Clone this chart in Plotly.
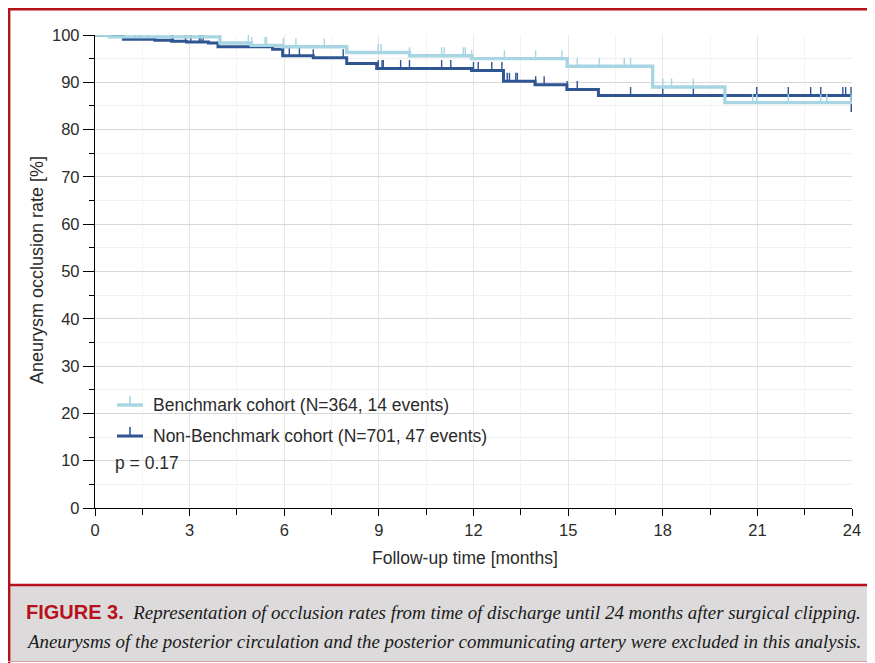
import numpy as np
import plotly.graph_objects as go

# ---------------- data ----------------
# Benchmark cohort (N=364, 14 events): step times [months] and occlusion rate [%]
bench_t = [0, 0.45, 3.96, 4.95, 5.95, 7.98, 9.97, 11.94, 14.97, 17.68, 19.97, 24]
bench_s = [100, 99.6, 98.3, 97.8, 97.5, 96.3, 95.6, 95.0, 93.4, 89.0, 85.7, 85.7]
bench_censor = [0.26, 0.45, 0.5, 1.98, 2.38, 2.96, 3.96, 4.86, 4.97, 5.39, 5.44, 5.97,
                6.37, 7.27, 8.98, 9.07, 9.97, 10.99, 11.07, 11.68, 11.74, 11.94,
                12.98, 13.97, 14.8, 14.97, 15.29, 15.99, 16.78, 16.98, 18.0,
                18.28, 18.97, 20.85, 20.98, 21.98, 23.01, 23.2, 23.97]

# Non-Benchmark cohort (N=701, 47 events)
nonb_t = [0, 0.9, 1.9, 2.43, 2.9, 3.6, 3.9, 5.63, 5.95, 6.92, 7.98, 8.93, 11.94,
          12.95, 13.95, 14.96, 15.96, 24]
nonb_s = [100, 99.1, 98.9, 98.7, 98.5, 98.3, 97.5, 97.0, 95.6, 95.2, 94.0, 92.9, 92.5,
          90.2, 89.5, 88.5, 87.2, 83.7]
nonb_censor = [1.29, 1.43, 1.66, 2.44, 2.48, 2.87, 3.04, 3.31, 3.36, 3.43,
               5.97, 6.16, 6.48, 6.92, 7.87, 8.98, 9.1, 9.14, 9.69, 9.97, 10.99,
               11.28, 12.0, 12.15, 12.58, 12.9, 13.07, 13.14, 13.34, 13.39, 13.97,
               14.24, 14.97, 15.29, 16.98, 18.0, 18.97, 20.98, 21.98, 22.69, 23.01,
               23.71, 23.8, 23.97]

x_ticks = list(range(0, 25, 3))
y_ticks = list(range(0, 101, 10))

legend_labels = ["Benchmark cohort (N=364, 14 events)",
                 "Non-Benchmark cohort (N=701, 47 events)"]
p_text = "p = 0.17"
x_title = "Follow-up time [months]"
y_title = "Aneurysm occlusion rate [%]"
caption_1 = "Representation of occlusion rates from time of discharge until 24 months after surgical clipping."
caption_2 = "Aneurysms of the posterior circulation and the posterior communicating artery were excluded in this analysis."

LIGHT = "#a7d5e3"
DARK = "#2f5593"
RED = "#b5121b"

# ---------------- geometry (reference-window pixels) ----------------
WIN_W, WIN_H = 875, 663
OFF = 8                      # page body margin
W, H = WIN_W - OFF, WIN_H - OFF
L, R, T, B = 95, 852, 35, 508  # plot area in window pixels


def px_x(p):
    return (p - L) / (R - L)


def px_y(p):
    return (B - p) / (B - T)


TICK_H = 1.8  # censor tick height in % units


def censor_segments(times, st, ss):
    st = np.asarray(st)
    ss = np.asarray(ss)
    xs, ys = [], []
    for c in times:
        i = np.searchsorted(st, c, side="right") - 1
        v = ss[max(i, 0)]
        xs += [c, c, None]
        ys += [v, v + TICK_H, None]
    return xs, ys


fig = go.Figure()

for st, ss, cens, col, lw in [(nonb_t, nonb_s, nonb_censor, DARK, 3.0),
                              (bench_t, bench_s, bench_censor, LIGHT, 3.4)]:
    fig.add_trace(go.Scatter(x=st, y=ss, mode="lines", line=dict(color=col, width=lw, shape="hv"),
                             cliponaxis=False, showlegend=False, hoverinfo="skip"))
    cx, cy = censor_segments(cens, st, ss)
    fig.add_trace(go.Scatter(x=cx, y=cy, mode="lines", line=dict(color=col, width=1.4),
                             cliponaxis=False, showlegend=False, hoverinfo="skip"))

font_main = "Liberation Sans, Arial, sans-serif"
txt_col = "#2b2b2b"

fig.update_layout(
    width=W, height=H, autosize=False,
    margin=dict(l=L - OFF, r=WIN_W - R, t=T - OFF, b=WIN_H - B),
    paper_bgcolor="white", plot_bgcolor="white",
    font=dict(family=font_main, size=16.5, color=txt_col),
    showlegend=False,
)

fig.update_xaxes(
    range=[0, 24], tickvals=x_ticks, ticks="outside", ticklen=7, tickwidth=1, tickcolor="black",
    showline=True, linecolor="black", linewidth=1.3, zeroline=False,
    showgrid=True, gridcolor="#e6e6e6", gridwidth=1,
    minor=dict(dtick=1.5, tick0=0, ticks="outside", ticklen=6, tickcolor="black",
               showgrid=True, gridcolor="#f4f4f4"),
    tickfont=dict(size=16.5, color=txt_col),
)
fig.update_yaxes(
    range=[0, 100], tickvals=y_ticks, ticks="outside", ticklen=11, tickwidth=1, tickcolor="black",
    showline=True, linecolor="black", linewidth=1.3, zeroline=False,
    showgrid=True, gridcolor="#d8d8d8", gridwidth=1,
    minor=dict(dtick=5, tick0=0, ticks="outside", ticklen=5, tickcolor="black",
               showgrid=True, gridcolor="#f0f0f0"),
    tickfont=dict(size=16.5, color=txt_col),
)

shapes = []
annotations = []

# axis titles
annotations.append(dict(text=x_title, xref="paper", yref="paper", x=px_x(465), y=px_y(558),
                        xanchor="center", yanchor="middle", showarrow=False,
                        font=dict(size=17.5, color=txt_col)))
annotations.append(dict(text=y_title, xref="paper", yref="paper", x=px_x(37), y=px_y(270),
                        xanchor="center", yanchor="middle", textangle=-90, showarrow=False,
                        font=dict(size=18, color=txt_col)))

# white boxes behind legend and p-value
shapes.append(dict(type="rect", xref="paper", yref="paper", layer="between",
                   x0=px_x(108), x1=px_x(494), y0=px_y(450), y1=px_y(394),
                   fillcolor="white", line=dict(width=0)))
shapes.append(dict(type="rect", xref="paper", yref="paper", layer="between",
                   x0=px_x(110), x1=px_x(185), y0=px_y(474), y1=px_y(452),
                   fillcolor="white", line=dict(width=0)))

# legend symbols
for row_y, col, lw, lab in [(405, LIGHT, 3.4, legend_labels[0]), (436, DARK, 3.0, legend_labels[1])]:
    shapes.append(dict(type="line", xref="paper", yref="paper",
                       x0=px_x(117), x1=px_x(143), y0=px_y(row_y), y1=px_y(row_y),
                       line=dict(color=col, width=lw)))
    shapes.append(dict(type="line", xref="paper", yref="paper",
                       x0=px_x(130), x1=px_x(130), y0=px_y(row_y), y1=px_y(row_y - 9),
                       line=dict(color=col, width=1.6)))
    annotations.append(dict(text=lab, xref="paper", yref="paper", x=px_x(151), y=px_y(row_y),
                            xanchor="left", yanchor="middle", showarrow=False,
                            font=dict(size=17.5, color=txt_col)))
annotations.append(dict(text=p_text, xref="paper", yref="paper", x=px_x(113), y=px_y(463),
                        xanchor="left", yanchor="middle", showarrow=False,
                        font=dict(size=17.5, color=txt_col)))

# outer red frame and caption box
shapes.append(dict(type="rect", xref="paper", yref="paper", layer="below",
                   x0=px_x(9), x1=px_x(880), y0=px_y(661), y1=px_y(586),
                   fillcolor="#dcdadb", line=dict(width=0)))
shapes.append(dict(type="line", xref="paper", yref="paper",
                   x0=px_x(9), x1=px_x(9), y0=px_y(7), y1=px_y(670),
                   line=dict(color=RED, width=2.8)))
shapes.append(dict(type="line", xref="paper", yref="paper",
                   x0=px_x(7), x1=px_x(880), y0=px_y(9), y1=px_y(9),
                   line=dict(color=RED, width=2.8)))
shapes.append(dict(type="line", xref="paper", yref="paper",
                   x0=px_x(7), x1=px_x(880), y0=px_y(585), y1=px_y(585),
                   line=dict(color=RED, width=2.6)))
shapes.append(dict(type="line", xref="paper", yref="paper",
                   x0=px_x(7), x1=px_x(880), y0=px_y(661.5), y1=px_y(661.5),
                   line=dict(color="#d9a0a4", width=1.2)))

cap_font = "Liberation Serif, Times New Roman, serif"
annotations.append(dict(
    text=("<span style='font-family:Liberation Sans Narrow, Liberation Sans, sans-serif;"
          "font-size:20px;color:" + RED + "'><b>FIGURE 3.</b></span>  <i>" + caption_1 + "</i>"),
    xref="paper", yref="paper", x=px_x(24), y=px_y(612), xanchor="left", yanchor="middle",
    showarrow=False, font=dict(family=cap_font, size=18.9, color="#1a1a1a")))
annotations.append(dict(
    text="<i>" + caption_2 + "</i>",
    xref="paper", yref="paper", x=px_x(24), y=px_y(641), xanchor="left", yanchor="middle",
    showarrow=False, font=dict(family=cap_font, size=18.9, color="#1a1a1a")))

fig.update_layout(shapes=shapes, annotations=annotations)

fig.write_html("out.html")
